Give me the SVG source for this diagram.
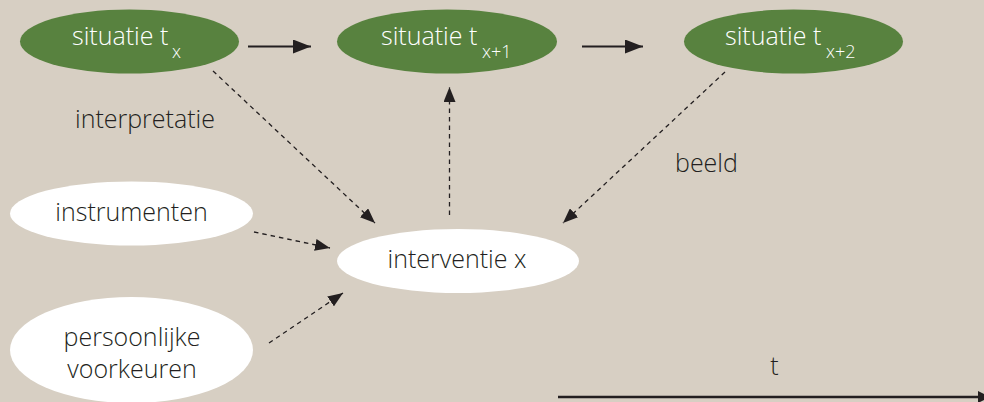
<svg xmlns="http://www.w3.org/2000/svg" width="984" height="402" viewBox="0 0 984 402">
<defs>
<style>
text{font-family:"Open Sans","Noto Sans","Liberation Sans",sans-serif;font-weight:300;font-size:25px;fill:#231f20}
.g{fill:#58823f}
.w{fill:#ffffff}
.wt{fill:#ffffff}
.sub{font-size:18px}
.dash{stroke:#231f20;stroke-width:1.3;stroke-dasharray:4.5 4;fill:none;marker-end:url(#ad)}
.solid{stroke:#231f20;stroke-width:2.2;fill:none;marker-end:url(#as)}
</style>
<marker id="ad" markerUnits="userSpaceOnUse" markerWidth="16" markerHeight="12" refX="15" refY="6" orient="auto"><path d="M0,0 L15,6 L0,12 z" fill="#231f20"/></marker>
<marker id="as" markerUnits="userSpaceOnUse" markerWidth="18" markerHeight="14" refX="18" refY="7" orient="auto"><path d="M0,0 L18,7 L0,14 z" fill="#231f20"/></marker>
</defs>
<rect width="984" height="402" fill="#d7cfc3"/>
<g id="connectors">
<line class="solid" x1="248" y1="46.5" x2="311" y2="46.5"/>
<line class="solid" x1="582" y1="46.5" x2="643" y2="46.5"/>
<line class="dash" x1="213" y1="71" x2="375" y2="223"/>
<line class="dash" x1="449.5" y1="215" x2="449.5" y2="87"/>
<line class="dash" x1="725" y1="72" x2="563" y2="223"/>
<line class="dash" x1="254" y1="232" x2="330" y2="248"/>
<line class="dash" x1="269" y1="343" x2="343" y2="293"/>
<line x1="558" y1="397" x2="984" y2="397" stroke="#231f20" stroke-width="2.4"/>
<path d="M978,391 L990,397 L978,403 z" fill="#231f20"/>
</g>
<g id="situatie-tx">
<ellipse class="g" cx="129.5" cy="41.5" rx="109.5" ry="32"/>
<text x="72" y="45" class="wt">situatie t<tspan class="sub" x="172" y="58">x</tspan></text>
</g>
<g id="situatie-tx1">
<ellipse class="g" cx="447" cy="41.5" rx="110" ry="32"/>
<text x="381" y="45" class="wt">situatie t<tspan class="sub" x="482" y="58">x+1</tspan></text>
</g>
<g id="situatie-tx2">
<ellipse class="g" cx="793.5" cy="41.5" rx="109.5" ry="32"/>
<text x="725" y="45" class="wt">situatie t<tspan class="sub" x="826" y="58">x+2</tspan></text>
</g>
<g id="interpretatie"><text x="75" y="128">interpretatie</text></g>
<g id="beeld"><text x="675" y="172">beeld</text></g>
<g id="instrumenten">
<ellipse class="w" cx="131.5" cy="213.5" rx="121.5" ry="32"/>
<text x="131.5" y="221" text-anchor="middle">instrumenten</text>
</g>
<g id="interventie">
<ellipse class="w" cx="458" cy="261" rx="121" ry="32"/>
<text x="457" y="268" text-anchor="middle">interventie x</text>
</g>
<g id="persoonlijke">
<ellipse class="w" cx="131.5" cy="350" rx="121.5" ry="53"/>
<text x="132" y="346" text-anchor="middle">persoonlijke</text>
<text x="132" y="378" text-anchor="middle">voorkeuren</text>
</g>
<g id="t-axis"><text x="774.5" y="375" text-anchor="middle">t</text></g>
</svg>
